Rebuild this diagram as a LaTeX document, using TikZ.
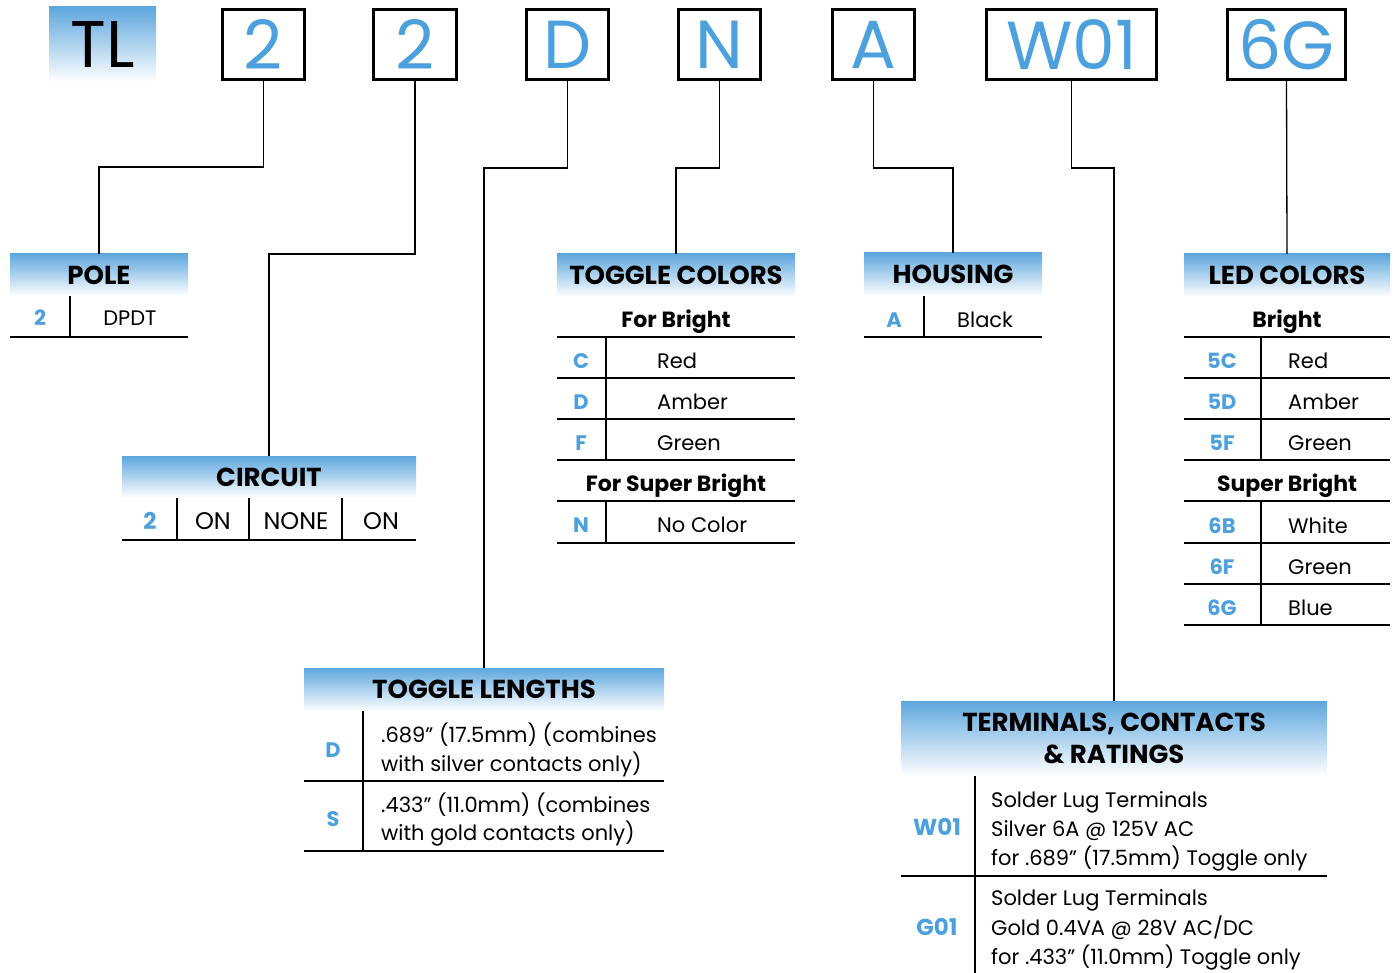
\documentclass[tikz,border=0pt]{standalone}
\usepackage{fontspec}
\setmainfont{Poppins}
\definecolor{codeblue}{HTML}{4DA0DE}
\definecolor{hdrblue}{HTML}{5EA7DE}

\begin{document}
\begin{tikzpicture}[
		x=1pt,y=-1pt,
		topbox/.style={draw,line width=3pt,minimum height=70pt,inner sep=0pt,text=codeblue,font=\fontsize{68}{68}\selectfont},
		tlbox/.style={minimum width=107pt,minimum height=75pt,inner sep=0pt,top color=hdrblue,bottom color=white,font=\fontsize{66}{66}\selectfont},
		hdr/.style={anchor=north west,inner sep=0pt,outer sep=0pt,top color=hdrblue,bottom color=white,font=\bfseries\fontsize{26}{26}\selectfont},
		code/.style={anchor=base,text=codeblue,inner sep=0pt,font=\bfseries\fontsize{21}{21}\selectfont},
		val/.style={anchor=base,inner sep=0pt,font=\fontsize{21}{21}\selectfont},
		lval/.style={anchor=base west,inner sep=0pt,font=\fontsize{21}{21}\selectfont},
		sub/.style={anchor=base,inner sep=0pt,font=\bfseries\fontsize{22}{22}\selectfont},
		rule/.style={line width=1.3pt},
		conn/.style={line width=1.3pt}
		]
		\useasboundingbox (0,0) rectangle (1394,973);
		
		% part number boxes
		\node[tlbox] (tl) at (102.5,44.5) {TL};
		\node[topbox,minimum width=82pt] (pole2) at (263.5,44.5) {2};
		\node[topbox,minimum width=83pt] (circ2) at (415,44.5) {2};
		\node[topbox,minimum width=82pt] (lenD) at (567.5,44.5) {D};
		\node[topbox,minimum width=82pt] (colN) at (719.5,44.5) {N};
		\node[topbox,minimum width=82pt] (housA) at (873.5,44.5) {A};
		\node[topbox,minimum width=170pt] (termW) at (1071.5,44.5) {W01};
		\node[topbox,minimum width=118pt] (ledG) at (1286.5,44.5) {6G};
		
		% headers
		\node[hdr,minimum width=178pt,minimum height=42pt] (pole) at (10,254) {POLE};
		\node[hdr,minimum width=294pt,minimum height=42pt] (circ) at (122,456) {CIRCUIT};
		\node[hdr,minimum width=238pt,minimum height=43pt] (col) at (557,254) {TOGGLE COLORS};
		\node[hdr,minimum width=178pt,minimum height=43pt] (hous) at (864,253) {HOUSING};
		\node[hdr,minimum width=206pt,minimum height=43pt] (led) at (1184,254) {LED COLORS};
		\node[hdr,minimum width=360pt,minimum height=43pt] (len) at (304,668) {TOGGLE LENGTHS};
		\node[hdr,minimum width=426pt,minimum height=75pt,align=center,font=\bfseries\fontsize{26}{32}\selectfont] (term) at (901,701) {TERMINALS, CONTACTS\\\& RATINGS};
		
		% connectors
		\draw[conn] (pole2.south) -- ++(0,86) -| (pole.north);
		\draw[conn] (circ2.south) -- ++(0,173) -| (circ.north);
		\draw[conn] (lenD.south) -- ++(0,87) -| (len.north);
		\draw[conn] (colN.south) -- ++(0,87) -| (col.north);
		\draw[conn] (housA.south) -- ++(0,87) -| (hous.north);
		\draw[conn] (termW.south) -- ++(0,87) -| (term.north);
		\draw[conn] (ledG.south) -- (led.north);
		
		% pole
		\node[code] (poleC) at (40,326) {2};
		\node[val] (poleV) at (130,326) {DPDT};
		\draw[rule] (70,296) -- (70,337);
		\draw[rule] (10,337) -- (188,337);
		
		% circuit
		\node[code,font=\bfseries\fontsize{23}{23}\selectfont] (circC) at (150,529) {2};
		\node[val,font=\fontsize{24}{24}\selectfont] (circA) at (213,529) {ON};
		\node[val,font=\fontsize{24}{24}\selectfont] (circB) at (296,529) {NONE};
		\node[val,font=\fontsize{24}{24}\selectfont] (circD) at (381,529) {ON};
		\draw[rule] (177,498) -- (177,540);
		\draw[rule] (249,498) -- (249,540);
		\draw[rule] (342,498) -- (342,540);
		\draw[rule] (122,540) -- (416,540);
		
		% toggle colors
		\node[sub] (colB) at (676,327) {For Bright};
		\draw[rule] (557,337) -- (795,337);
		\node[code] (colC1) at (581,368) {C};
		\node[lval] (colV1) at (657,368) {Red};
		\draw[rule] (557,378) -- (795,378);
		\node[code] (colC2) at (581,409) {D};
		\node[lval] (colV2) at (657,409) {Amber};
		\draw[rule] (557,419) -- (795,419);
		\node[code] (colC3) at (581,450) {F};
		\node[lval] (colV3) at (657,450) {Green};
		\draw[rule] (557,460) -- (795,460);
		\node[sub] (colS) at (676,491) {For Super Bright};
		\draw[rule] (557,501) -- (795,501);
		\node[code] (colC4) at (581,532) {N};
		\node[lval] (colV4) at (657,532) {No Color};
		\draw[rule] (557,543) -- (795,543);
		\draw[rule] (606,337) -- (606,460);
		\draw[rule] (606,501) -- (606,543);
		
		% housing
		\node[code] (housC) at (894,327) {A};
		\node[lval] (housV) at (957,327) {Black};
		\draw[rule] (924,296) -- (924,337);
		\draw[rule] (864,337) -- (1042,337);
		
		% led colors
		\node[sub] (ledB) at (1287,327) {Bright};
		\draw[rule] (1184,337) -- (1390,337);
		\node[code] (ledC1) at (1222,368) {5C};
		\node[lval] (ledV1) at (1288,368) {Red};
		\draw[rule] (1184,378) -- (1390,378);
		\node[code] (ledC2) at (1222,409) {5D};
		\node[lval] (ledV2) at (1288,409) {Amber};
		\draw[rule] (1184,419) -- (1390,419);
		\node[code] (ledC3) at (1222,450) {5F};
		\node[lval] (ledV3) at (1288,450) {Green};
		\draw[rule] (1184,460) -- (1390,460);
		\node[sub] (ledS) at (1287,491) {Super Bright};
		\draw[rule] (1184,501) -- (1390,501);
		\node[code] (ledC4) at (1222,533) {6B};
		\node[lval] (ledV4) at (1288,533) {White};
		\draw[rule] (1184,543) -- (1390,543);
		\node[code] (ledC5) at (1222,574) {6F};
		\node[lval] (ledV5) at (1288,574) {Green};
		\draw[rule] (1184,584) -- (1390,584);
		\node[code] (ledC6) at (1222,615) {6G};
		\node[lval] (ledV6) at (1288,615) {Blue};
		\draw[rule] (1184,625) -- (1390,625);
		\draw[rule] (1261,337) -- (1261,460);
		\draw[rule] (1261,501) -- (1261,625);
		
		% toggle lengths
		\node[code] (lenC1) at (333,757) {D};
		\node[lval] (lenV1a) at (381,742) {.689” (17.5mm) (combines};
		\node[lval] (lenV1b) at (381,771) {with silver contacts only)};
		\draw[rule] (304,781) -- (664,781);
		\node[code] (lenC2) at (333,826) {S};
		\node[lval] (lenV2a) at (381,812) {.433” (11.0mm) (combines};
		\node[lval] (lenV2b) at (381,840) {with gold contacts only)};
		\draw[rule] (304,851) -- (664,851);
		\draw[rule] (363,711) -- (363,851);
		
		% terminals
		\node[code,font=\bfseries\fontsize{23}{23}\selectfont] (termC1) at (937,835) {W01};
		\node[lval] (termV1a) at (991,807) {Solder Lug Terminals};
		\node[lval] (termV1b) at (991,836) {Silver 6A @ 125V AC};
		\node[lval] (termV1c) at (991,865) {for .689” (17.5mm) Toggle only};
		\draw[rule] (901,876) -- (1327,876);
		\node[code,font=\bfseries\fontsize{23}{23}\selectfont] (termC2) at (937,935) {G01};
		\node[lval] (termV2a) at (991,905) {Solder Lug Terminals};
		\node[lval] (termV2b) at (991,935) {Gold 0.4VA @ 28V AC/DC};
		\node[lval] (termV2c) at (991,964) {for .433” (11.0mm) Toggle only};
		\draw[rule] (975,776) -- (975,973);
		
		\end{tikzpicture}
\end{document}
